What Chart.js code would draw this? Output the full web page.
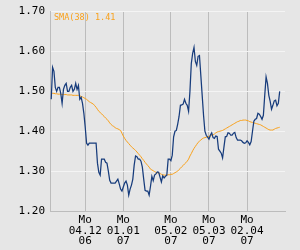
<!DOCTYPE html>
<html>
<head>
<meta charset="utf-8">
<script src="https://cdn.jsdelivr.net/npm/chart.js@4/dist/chart.umd.min.js"></script>
<style>
html,body{margin:0;padding:0;background:#e6e6e6;}
#wrap{width:300px;height:250px;position:relative;}
</style>
</head>
<body>
<div id="wrap"><canvas id="c" width="300" height="250"></canvas></div>
<script>
// first trading date of the series; one value per calendar day
const startDate = '2006-11-09';
const price = [
1.48,1.56,1.55,1.51,1.50,1.51,1.51,1.495,1.47,1.505,1.515,1.52,1.50,1.50,1.51,1.515,1.50,1.505,1.52,1.505,1.515,1.48,1.485,1.47,1.445,
1.41,1.37,1.365,1.37,1.37,1.37,1.37,1.37,1.37,1.32,1.297,1.29,1.33,1.33,1.33,1.322,1.32,1.30,1.277,1.27,1.27,1.27,1.27,1.275,1.28,1.268,1.255,1.25,
1.26,1.27,1.275,1.265,1.24,1.255,1.265,1.28,1.315,1.338,1.336,1.33,1.33,1.325,1.31,1.28,1.252,1.25,1.25,1.24,1.262,1.287,1.276,1.29,1.293,1.298,1.297,1.285,1.273,1.288,1.283,1.287,1.29,
1.33,1.33,1.326,1.34,1.386,1.40,1.402,1.418,1.437,1.465,1.466,1.468,1.48,1.47,1.465,1.45,1.50,1.57,1.595,1.61,1.575,1.565,1.588,1.59,1.54,1.49,1.44,1.40,1.39,1.385,
1.38,1.39,1.396,1.384,1.382,1.388,1.387,1.355,1.35,1.345,1.333,1.36,1.386,1.387,1.396,1.395,1.39,1.39,1.395,1.397,1.384,1.378,1.378,1.378,1.376,1.372,1.37,1.371,
1.376,1.372,1.366,1.374,1.40,1.425,1.43,1.432,1.445,1.443,1.437,1.43,1.44,1.49,1.536,1.52,1.49,1.475,1.455,1.465,1.476,1.478,1.464,1.47,1.50
];
const sma38 = [
1.496,1.495,1.495,1.494,1.494,1.493,1.493,1.493,1.492,1.492,1.492,1.492,1.491,1.491,1.491,1.491,1.49,1.49,1.49,1.49,1.49,1.489,1.487,1.486,1.484,
1.482,1.48,1.477,1.474,1.472,1.47,1.468,1.464,1.46,1.455,1.45,1.447,1.444,1.44,1.437,1.433,1.43,1.426,1.421,1.417,1.414,1.412,1.409,1.407,1.406,1.404,1.402,1.395,
1.388,1.382,1.377,1.373,1.369,1.365,1.361,1.358,1.355,1.352,1.348,1.344,1.34,1.336,1.331,1.327,1.322,1.318,1.314,1.31,1.305,1.303,1.301,1.299,1.297,1.296,1.295,1.294,1.292,1.291,1.29,1.29,1.29,
1.291,1.291,1.292,1.292,1.294,1.296,1.298,1.30,1.304,1.307,1.311,1.314,1.318,1.321,1.325,1.33,1.338,1.344,1.351,1.357,1.362,1.367,1.372,1.375,1.378,1.381,1.383,1.384,1.385,1.386,
1.387,1.388,1.39,1.391,1.393,1.396,1.398,1.399,1.40,1.401,1.402,1.404,1.406,1.408,1.41,1.412,1.414,1.416,1.418,1.42,1.422,1.424,1.425,1.427,1.427,1.428,1.428,1.428,
1.427,1.426,1.424,1.423,1.422,1.421,1.42,1.419,1.418,1.417,1.416,1.414,1.412,1.41,1.408,1.406,1.404,1.403,1.403,1.403,1.405,1.407,1.408,1.409,1.41
];
const tickDates = ['2006-12-04','2007-01-01','2007-02-05','2007-03-05','2007-04-02'];
const tickLabels = [['Mo','04.12','06'],['Mo','01.01','07'],['Mo','05.02','07'],['Mo','05.03','07'],['Mo','02.04','07']];
const yTicks = [1.20,1.30,1.40,1.50,1.60,1.70];
const smaLabel = 'SMA(38) 1.41';
const viewStart = '2006-11-08', viewEnd = '2007-04-30';

const day = s => { const [y,m,d] = s.split('-').map(Number); return Date.UTC(y,m-1,d)/86400000; };
const s0 = day(startDate);
const tickDays = tickDates.map(day);

const bgPlugin = {
  id:'bg',
  beforeDraw(chart){ const c=chart.ctx; c.save(); c.fillStyle='#e6e6e6'; c.fillRect(0,0,chart.width,chart.height); c.restore(); },
  afterDatasetsDraw(chart){
    const c=chart.ctx, a=chart.chartArea; c.save();
    c.font='8.5px "DejaVu Sans Mono"'; c.fillStyle='#f9a11b'; c.textBaseline='middle';
    c.fillText(smaLabel, a.left+4, a.top+6.5); c.restore();
  }
};

new Chart(document.getElementById('c'), {
  type:'line',
  data:{ datasets:[
    { label:'SMA', data: sma38.map((v,i)=>({x:s0+i,y:v})), borderColor:'#f9a11b', borderWidth:1, pointRadius:0, tension:0, order:2 },
    { label:'Price', data: price.map((v,i)=>({x:s0+i,y:v})), borderColor:'#173c7c', borderWidth:1.25, pointRadius:0, tension:0, order:1 }
  ]},
  options:{
    responsive:false, animation:false, devicePixelRatio:1,
    layout:{ padding:{ left:0, right:15, top:5, bottom:0 } },
    plugins:{ legend:{display:false}, tooltip:{enabled:false} },
    scales:{
      x:{ type:'linear', min:day(viewStart)+0.1, max:day(viewEnd)-0.1,
        afterBuildTicks(s){ s.ticks = tickDays.map(v=>({value:v})); },
        afterFit(s){ s.height = 39; },
        ticks:{ autoSkip:false, maxRotation:0, padding:4, color:'#000',
          font:{ family:'"DejaVu Sans Mono"', size:11, lineHeight:0.95 },
          callback(v){ const i = tickDays.indexOf(v); return i>=0 ? tickLabels[i] : ''; } },
        grid:{ color:'#bcbcbc', lineWidth:1, drawTicks:false },
        border:{ color:'#bcbcbc', width:1 }
      },
      y:{ min:1.2, max:1.7,
        afterBuildTicks(s){ s.ticks = yTicks.map(v=>({value:v})); },
        afterFit(s){ s.width = 50; },
        ticks:{ padding:5, color:'#000', font:{ family:'"DejaVu Sans Mono"', size:11 },
          callback(v){ return Number(v).toFixed(2); } },
        grid:{ color:'#f4f4f4', lineWidth:1, drawTicks:false },
        border:{ color:'#bcbcbc', width:1 }
      }
    }
  },
  plugins:[bgPlugin]
});
</script>
</body>
</html>
